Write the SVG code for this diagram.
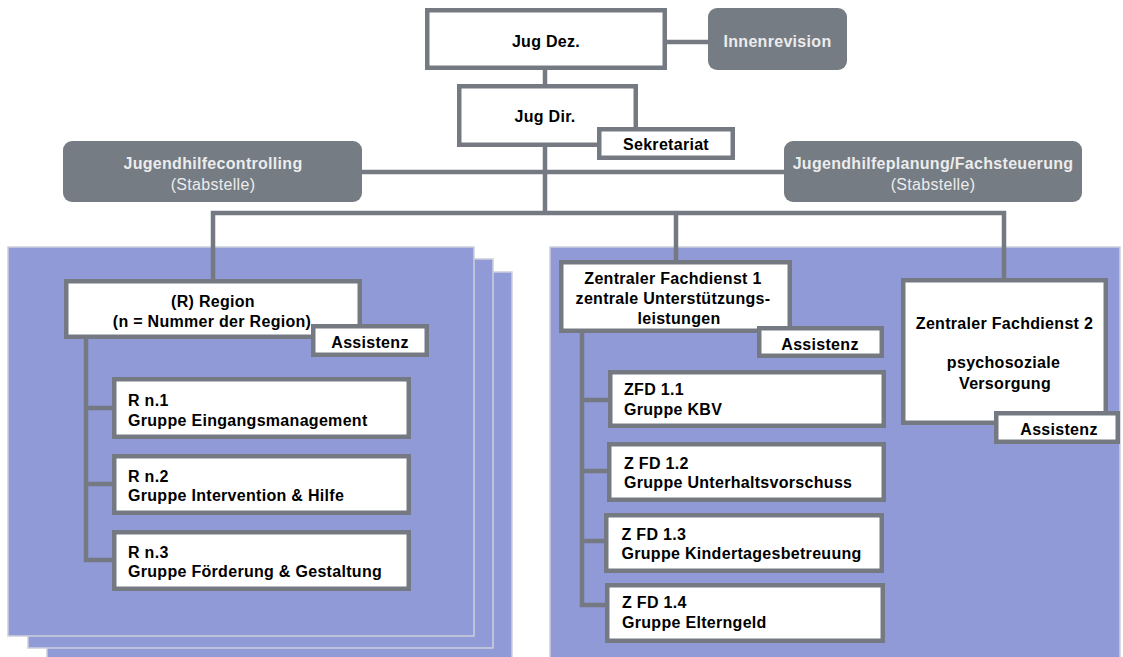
<svg xmlns="http://www.w3.org/2000/svg" width="1123" height="657" viewBox="0 0 1123 657">
<style>
  .panel { fill: #8F9AD6; stroke: #CDD0DC; stroke-width: 1.5; }
  .box { fill: #FFFFFF; stroke: #757A82; stroke-width: 4.5; }
  .staff { fill: #767C84; }
  .conn { fill: none; stroke: #757A82; stroke-width: 4.5; stroke-linejoin: miter; }
  text { font-family: "Liberation Sans", Arial, sans-serif; font-size: 16px; letter-spacing: 0.3px; fill: #000000; }
  .b { font-weight: bold; }
  .c { text-anchor: middle; }
  .lt { fill: #ECECEC; }
</style>
<rect width="1123" height="657" fill="#FFFFFF"/>

<g id="panels">
  <rect class="panel" x="47" y="272" width="465" height="390"/>
  <rect class="panel" x="28" y="259" width="465" height="389"/>
  <rect class="panel" x="8" y="247" width="466" height="389"/>
  <rect class="panel" x="550" y="247" width="570" height="412"/>
</g>

<g id="connectors">
  <path class="conn" d="M667,42 H708"/>
  <path class="conn" d="M545,70 V84"/>
  <path class="conn" d="M545,147 V213"/>
  <path class="conn" d="M362,172 H784"/>
  <path class="conn" d="M213,279 V213 H1004 V278"/>
  <path class="conn" d="M676,213 V260"/>
  <path class="conn" d="M86,339 V560 H112 M86,408 H112 M86,484 H112"/>
  <path class="conn" d="M582,333 V605 H605 M582,400 H608 M582,471 H607 M582,541 H604"/>
</g>

<g id="jug-dez">
  <rect class="box" x="427.25" y="10.25" width="237.5" height="57.5"/>
  <text class="b c" x="546" y="47">Jug Dez.</text>
</g>
<g id="innenrevision">
  <rect class="staff" x="708" y="8" width="139" height="62" rx="9"/>
  <text class="b c lt" x="777.5" y="47">Innenrevision</text>
</g>
<g id="jug-dir">
  <rect class="box" x="459.25" y="86.25" width="176.5" height="58.5"/>
  <text class="b c" x="545" y="122">Jug Dir.</text>
</g>
<g id="sekretariat">
  <rect class="box" x="599.25" y="129.25" width="133.5" height="28.5"/>
  <text class="b c" x="666" y="150">Sekretariat</text>
</g>
<g id="jugendhilfecontrolling">
  <rect class="staff" x="63" y="141" width="299" height="61" rx="9"/>
  <text class="b c lt" x="213" y="169">Jugendhilfecontrolling</text>
  <text class="c lt" x="213" y="190">(Stabstelle)</text>
</g>
<g id="jugendhilfeplanung">
  <rect class="staff" x="784" y="141" width="298" height="61" rx="9"/>
  <text class="b c lt" x="933" y="169">Jugendhilfeplanung/Fachsteuerung</text>
  <text class="c lt" x="933" y="190">(Stabstelle)</text>
</g>

<g id="region">
  <rect class="box" x="66.25" y="281.25" width="293.5" height="55.5"/>
  <text class="b c" x="213" y="307">(R) Region</text>
  <text class="b c" x="212" y="327">(n = Nummer der Region)</text>
</g>
<g id="region-assistenz">
  <rect class="box" x="313.25" y="326.25" width="113.5" height="28.5"/>
  <text class="b c" x="370" y="347.5">Assistenz</text>
</g>
<g id="rn1">
  <rect class="box" x="114.25" y="379.25" width="294.5" height="57.5"/>
  <text class="b" x="128" y="405.5">R n.1</text>
  <text class="b" x="128" y="425.5">Gruppe Eingangsmanagement</text>
</g>
<g id="rn2">
  <rect class="box" x="114.25" y="456.25" width="294.5" height="56.5"/>
  <text class="b" x="128" y="481.5">R n.2</text>
  <text class="b" x="128" y="501">Gruppe Intervention &amp; Hilfe</text>
</g>
<g id="rn3">
  <rect class="box" x="114.25" y="532.25" width="294.5" height="56.5"/>
  <text class="b" x="128" y="557.5">R n.3</text>
  <text class="b" x="128" y="577">Gruppe Förderung &amp; Gestaltung</text>
</g>

<g id="zfd1">
  <rect class="box" x="561.25" y="262.25" width="228.5" height="68.5"/>
  <text class="b c" x="673" y="283.5">Zentraler Fachdienst 1</text>
  <text class="b c" x="673" y="303.5">zentrale Unterstützungs-</text>
  <text class="b c" x="679" y="323.5">leistungen</text>
</g>
<g id="zfd1-assistenz">
  <rect class="box" x="759.25" y="328.25" width="122.5" height="27.5"/>
  <text class="b c" x="820" y="350">Assistenz</text>
</g>
<g id="zfd11">
  <rect class="box" x="610.25" y="372.25" width="273.5" height="53.5"/>
  <text class="b" x="624" y="395">ZFD 1.1</text>
  <text class="b" x="624" y="415">Gruppe KBV</text>
</g>
<g id="zfd12">
  <rect class="box" x="609.25" y="444.25" width="274.5" height="55.5"/>
  <text class="b" x="624" y="469">Z FD 1.2</text>
  <text class="b" x="624" y="488">Gruppe Unterhaltsvorschuss</text>
</g>
<g id="zfd13">
  <rect class="box" x="606.25" y="515.25" width="275.5" height="55.5"/>
  <text class="b" x="621.5" y="540">Z FD 1.3</text>
  <text class="b" x="621.5" y="559">Gruppe Kindertagesbetreuung</text>
</g>
<g id="zfd14">
  <rect class="box" x="607.25" y="585.25" width="275.5" height="55.5"/>
  <text class="b" x="622" y="608">Z FD 1.4</text>
  <text class="b" x="622" y="627.5">Gruppe Elterngeld</text>
</g>

<g id="zfd2">
  <rect class="box" x="903.25" y="280.25" width="202.5" height="142.5"/>
  <text class="b c" x="1004.5" y="329">Zentraler Fachdienst 2</text>
  <text class="b c" x="1003.5" y="368">psychosoziale</text>
  <text class="b c" x="1005" y="389">Versorgung</text>
</g>
<g id="zfd2-assistenz">
  <rect class="box" x="996.25" y="413.25" width="121.5" height="28.5"/>
  <text class="b c" x="1059" y="435">Assistenz</text>
</g>
</svg>
